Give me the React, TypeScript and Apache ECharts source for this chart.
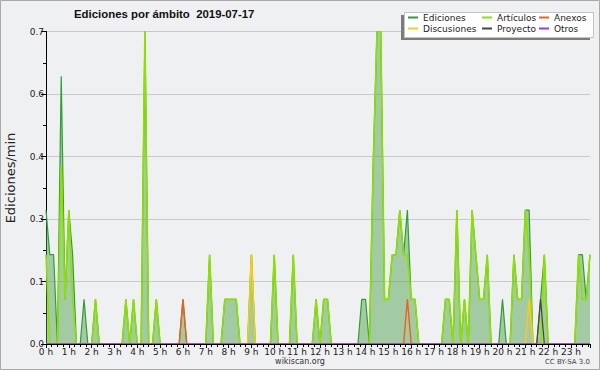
import React, { useEffect, useRef } from "react";
import * as echarts from "echarts";

// 10-minute bins, 0:00 .. 23:50 (144 bins), edits per minute
const binsPerHour = 6;
const ediciones = [
  0.3, 0.2, 0.2, 0, 0.6, 0.1, 0.3, 0.2, 0, 0,
  0.1, 0, 0, 0.1, 0, 0, 0, 0, 0, 0,
  0, 0.1, 0, 0.1, 0, 0, 0.7, 0, 0, 0.1,
  0, 0, 0, 0, 0, 0, 0.1, 0, 0, 0,
  0, 0, 0, 0.2, 0, 0, 0, 0.1, 0.1, 0.1,
  0.1, 0, 0, 0, 0.2, 0, 0, 0, 0, 0,
  0.2, 0, 0, 0, 0, 0.2, 0, 0, 0, 0,
  0, 0.1, 0, 0.1, 0.1, 0, 0, 0, 0, 0,
  0, 0, 0, 0.1, 0.1, 0, 0.4, 0.7, 0.7, 0.1,
  0.1, 0.2, 0.2, 0.3, 0.2, 0.3, 0.1, 0.1, 0, 0,
  0, 0, 0, 0, 0, 0.1, 0.1, 0, 0.3, 0,
  0.1, 0, 0.3, 0.2, 0.1, 0.1, 0.2, 0, 0, 0,
  0.1, 0, 0, 0.2, 0.1, 0.1, 0.3, 0.3, 0, 0,
  0.1, 0.2, 0, 0, 0, 0, 0, 0, 0, 0,
  0.2, 0.2, 0.1, 0.2,
];
const articulos = [
  0.2, 0, 0, 0, 0.4, 0.1, 0.3, 0.1, 0, 0,
  0, 0, 0, 0.1, 0, 0, 0, 0, 0, 0,
  0, 0.1, 0, 0.1, 0, 0, 0.7, 0, 0, 0.1,
  0, 0, 0, 0, 0, 0, 0, 0, 0, 0,
  0, 0, 0, 0.2, 0, 0, 0, 0.1, 0.1, 0.1,
  0.1, 0, 0, 0, 0.2, 0, 0, 0, 0, 0,
  0.2, 0, 0, 0, 0, 0.2, 0, 0, 0, 0,
  0, 0.1, 0, 0.1, 0.1, 0, 0, 0, 0, 0,
  0, 0, 0, 0, 0, 0, 0.4, 0.7, 0.7, 0.1,
  0.1, 0.2, 0.2, 0.3, 0.2, 0.2, 0.1, 0.1, 0, 0,
  0, 0, 0, 0, 0, 0.1, 0.1, 0, 0.3, 0,
  0.1, 0, 0.3, 0.2, 0.1, 0.1, 0.2, 0, 0, 0,
  0, 0, 0, 0.2, 0.1, 0.1, 0.3, 0.2, 0, 0,
  0, 0.2, 0, 0, 0, 0, 0, 0, 0, 0,
  0.2, 0.1, 0.1, 0.2,
];
// sparse namespaces: bin index -> value
const anexosBins: Record<number, number> = { 36: 0.1, 95: 0.1 };
const discusionesBins: Record<number, number> = { 54: 0.2, 127: 0.1 };
const proyectoBins: Record<number, number> = { 130: 0.1 };
const otrosBins: Record<number, number> = {};

const yTicks = [0, 0.14, 0.28, 0.42, 0.56, 0.7];
const hourLabelSuffix = " h";

const FONT = "DejaVu Sans";

function toPairs(values: number[]) {
  return values.map((v, i) => [i / binsPerHour, v]);
}
function sparseToPairs(m: Record<number, number>) {
  return ediciones.map((_, i) => [i / binsPerHour, m[i] ?? 0]);
}

export default function App() {
  const ref = useRef<HTMLDivElement>(null);
  useEffect(() => {
    if (!ref.current) return;
    const chart = echarts.init(ref.current, undefined, { renderer: "svg" });
    const lastX = (ediciones.length - 1) / binsPerHour;
    const legendItem = (name: string, left: number, top: number) => ({
      show: true,
      data: [name],
      left,
      top,
      padding: 0,
      itemWidth: 10,
      itemHeight: 2,
      icon: "rect",
      selectedMode: false,
      z: 20,
      textStyle: { fontFamily: FONT, fontSize: 9, color: "#222" },
    });
    const lineSeries = (name: string, data: number[][], color: string, width: number, extra: any = {}) => ({
      name,
      type: "line",
      data,
      showSymbol: false,
      symbol: "none",
      lineStyle: { color, width },
      itemStyle: { color },
      emphasis: { disabled: true },
      ...extra,
    });
    chart.setOption({
      animation: false,
      backgroundColor: "#eff0f1",
      grid: { left: 46, right: 10, top: 31.5, bottom: 26 },
      legend: [
        legendItem("Ediciones", 408, 13),
        legendItem("Artículos", 482, 13),
        legendItem("Anexos", 539, 13),
        legendItem("Discusiones", 408, 24),
        legendItem("Proyecto", 482, 24),
        legendItem("Otros", 539, 24),
      ],
      xAxis: {
        type: "value",
        min: 0,
        max: lastX,
        interval: 1,
        z: 10,
        axisLine: { show: true, onZero: false, lineStyle: { color: "#000", width: 1 } },
        axisTick: { show: true, length: 4, lineStyle: { color: "#000" } },
        minorTick: { show: true, splitNumber: 4, length: 3, lineStyle: { color: "#000" } },
        splitLine: { show: false },
        axisLabel: {
          formatter: (v: number) => `${v}${hourLabelSuffix}`,
          fontFamily: FONT,
          fontSize: 9,
          color: "#222",
          margin: 3,
          showMaxLabel: false,
        },
      },
      yAxis: {
        type: "value",
        min: yTicks[0],
        max: yTicks[yTicks.length - 1],
        interval: yTicks[1] - yTicks[0],
        axisLine: { show: true, lineStyle: { color: "#000", width: 1 } },
        axisTick: { show: true, length: 5, lineStyle: { color: "#000" } },
        minorTick: { show: true, splitNumber: 2, length: 3, lineStyle: { color: "#000" } },
        splitLine: { show: true, lineStyle: { color: "#c9cacc", width: 1 } },
        axisLabel: {
          formatter: (v: number) => v.toFixed(1),
          fontFamily: FONT,
          fontSize: 9,
          color: "#222",
          margin: 2,
        },
      },
      series: [
        lineSeries("Ediciones", toPairs(ediciones), "#2f9e36", 1.2, {
          areaStyle: { color: "rgb(78,160,78)", opacity: 0.48 },
        }),
        lineSeries("Artículos", toPairs(articulos), "#8fe000", 1.6),
        lineSeries("Anexos", sparseToPairs(anexosBins), "#f0601c", 1.4),
        lineSeries("Discusiones", sparseToPairs(discusionesBins), "#ffc820", 1.4),
        lineSeries("Proyecto", sparseToPairs(proyectoBins), "#444444", 1.2),
        lineSeries("Otros", sparseToPairs(otrosBins), "#9933ff", 1.2),
      ],
      graphic: [
        { type: "rect", shape: { x: 0.5, y: 0.5, width: 599, height: 369 }, style: { fill: "none", stroke: "#a9a9a9", lineWidth: 1 }, silent: true, z: 1 },
        { type: "rect", shape: { x: 401, y: 15, width: 189, height: 25 }, style: { fill: "#7c7c7c" }, silent: true, z: 15 },
        { type: "rect", shape: { x: 404.5, y: 12.5, width: 189, height: 25 }, style: { fill: "#ffffff", stroke: "#c4c4c4", lineWidth: 1 }, silent: true, z: 16 },
        {
          type: "text",
          x: 74,
          y: 14,
          silent: true,
          z: 20,
          style: { text: "Ediciones por ámbito  2019-07-17", fontFamily: "Liberation Sans", fontWeight: "bold", fontSize: 11.4, fill: "#111", verticalAlign: "middle", align: "left" },
        },
        {
          type: "text",
          x: 10,
          y: 178,
          rotation: Math.PI / 2,
          silent: true,
          z: 20,
          style: { text: "Ediciones/min", fontFamily: FONT, fontSize: 13, fill: "#222", verticalAlign: "middle", align: "center" },
        },
        {
          type: "text",
          x: 300,
          y: 361,
          silent: true,
          z: 20,
          style: { text: "wikiscan.org", fontFamily: FONT, fontSize: 8, fill: "#333", verticalAlign: "middle", align: "center" },
        },
        {
          type: "text",
          x: 590,
          y: 362,
          silent: true,
          z: 20,
          style: { text: "CC BY-SA 3.0", fontFamily: FONT, fontSize: 7, fill: "#444", verticalAlign: "middle", align: "right" },
        },
      ],
    });
    return () => chart.dispose();
  }, []);
  return <div ref={ref} style={{ position: "fixed", left: 0, top: 0, width: 600, height: 370 }} />;
}
